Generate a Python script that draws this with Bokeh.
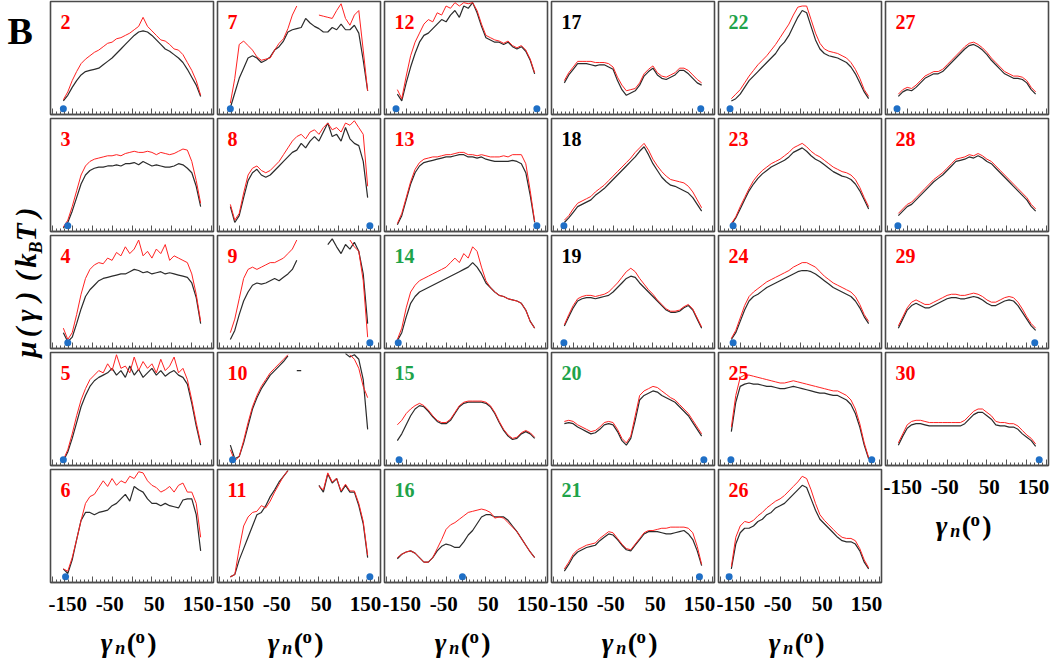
import math
import numpy as np
from bokeh.plotting import figure
from bokeh.layouts import row, column
from bokeh.models import (Range1d, FixedTicker, LinearAxis, SingleIntervalTicker, Label,
                          PrintfTickFormatter)
from bokeh.core.properties import value
from bokeh.embed import file_html
from bokeh.resources import INLINE

nan = float("nan")

# ---------------- data ----------------
gamma_deg = [-155, -145, -135, -125, -115, -105, -95, -85,
             -75, -65, -55, -45, -35, -25, -15, -5,
             5, 15, 25, 35, 45, 55, 65, 75,
             85, 95, 105, 115, 125, 135, 145, 155]
tick_label_values = [-150, -50, 50, 150]

red_labels = [2, 3, 4, 5, 6, 7, 8, 9, 10, 11, 12, 13, 23, 24, 25, 26, 27, 28, 29, 30]
black_labels = [17, 18, 19]
green_labels = [14, 15, 16, 20, 21, 22]

mu_black_02 = [12, 17, 24, 30, 35, 38, 39, 40, 41, 44, 47, 50, 54, 58, 62, 66, 70, 73, 74, 73, 70, 66, 62, 58, 56, 53, 50, 46, 40, 33, 26, 16]
mu_red_02 = [13, 20, 30, 38, 45, 49, 52, 55, 57, 60, 63, 64, 67, 68, 70, 72, 75, 78, 86, 78, 74, 70, 66, 65, 62, 58, 57, 53, 46, 39, 30, 17]
min_02 = [-155]
mu_black_03 = [3, 8, 18, 30, 42, 50, 54, 56, 57, 57, 58, 58, 59, 58, 60, 60, 61, 59, 62, 60, 58, 59, 58, 57, 57, 58, 60, 59, 56, 52, 40, 22]
mu_red_03 = [4, 10, 22, 36, 50, 58, 62, 64, 65, 66, 67, 67, 68, 67, 69, 70, 71, 70, 70, 71, 70, 68, 70, 69, 68, 69, 71, 73, 72, 62, 45, 25]
min_03 = [-145]
mu_black_04 = [14, 6, 10, 22, 35, 46, 52, 56, 60, 62, 63, 64, 65, 66, 66, 68, 70, 69, 67, 68, 66, 67, 68, 66, 67, 66, 65, 64, 63, 58, 45, 22]
mu_red_04 = [18, 8, 14, 30, 48, 62, 70, 74, 76, 75, 80, 78, 85, 82, 90, 84, 88, 96, 82, 86, 80, 88, 84, 92, 78, 82, 80, 78, 76, 66, 48, 24]
min_04 = [-145]
mu_black_05 = [4, 12, 24, 38, 52, 62, 70, 75, 78, 80, 82, 86, 80, 84, 78, 88, 80, 85, 78, 82, 86, 80, 84, 79, 82, 84, 80, 78, 72, 55, 35, 18]
mu_red_05 = [5, 14, 28, 44, 58, 68, 76, 80, 84, 82, 90, 84, 98, 86, 88, 82, 96, 84, 92, 86, 90, 82, 94, 84, 88, 96, 82, 86, 76, 58, 38, 20]
min_05 = [-155]
mu_black_06 = [12, 8, 20, 38, 55, 62, 62, 60, 62, 63, 64, 68, 70, 74, 78, 72, 85, 82, 80, 74, 70, 70, 68, 70, 68, 67, 66, 73, 74, 74, 60, 28]
mu_red_06 = [12, 10, 22, 38, 55, 70, 76, 78, 84, 90, 85, 92, 86, 90, 88, 94, 92, 98, 97, 90, 86, 84, 80, 82, 85, 80, 86, 88, 80, 80, 70, 40]
min_06 = [-150]
mu_black_07 = [6, 19, 32, 41, 50, 52, 50, 46, 48, 51, 57, 60, 65, 73, 75, 76, 77, 85, 81, 78, 76, 73, 73, 77, 75, 80, 75, 75, 79, 72, 48, 21]
mu_red_07 = [10, 32, 62, 65, 61, 57, 51, 48, 49, 50, 57, 63, 67, 76, 88, 96, nan, nan, nan, nan, 88, 87, 86, 85, 92, 98, 85, 79, 88, 92, 57, 21]
min_07 = [-155]
mu_black_08 = [22, 8, 14, 30, 45, 52, 55, 50, 48, 50, 54, 58, 62, 66, 70, 72, 78, 74, 80, 84, 80, 88, 96, 84, 86, 80, 92, 82, 78, 76, 62, 30]
mu_red_08 = [24, 10, 16, 34, 50, 56, 58, 54, 52, 54, 58, 62, 68, 74, 80, 84, 86, 82, 88, 90, 86, 92, 96, 90, 92, 88, 96, 94, 98, 92, 86, 40]
min_08 = [160]
mu_black_09 = [8, 16, 30, 42, 50, 56, 58, 57, 58, 60, 62, 60, 63, 66, 70, 78, nan, nan, nan, nan, nan, nan, 92, 97, 90, 84, 92, 88, 94, 86, 66, 22]
mu_red_09 = [14, 26, 44, 62, 70, 72, 70, 72, 74, 76, 76, 78, 80, 84, 88, 96, nan, nan, nan, nan, nan, nan, nan, nan, nan, nan, nan, 96, 90, 86, 60, 10]
min_09 = [160]
mu_black_10 = [18, 6, 8, 20, 35, 50, 60, 68, 74, 80, 84, 88, 92, 97, nan, 84, 84, nan, nan, nan, nan, nan, nan, nan, nan, nan, 99, 96, 98, 94, 76, 32]
mu_red_10 = [14, 4, 8, 22, 38, 52, 62, 70, 76, 82, 86, 90, 94, 98, nan, nan, nan, nan, nan, nan, nan, nan, nan, nan, nan, nan, nan, 98, 94, 86, 70, 60]
min_10 = [-150]
mu_black_11 = [5, 7, 20, 30, 40, 50, 60, 62, 68, 76, 82, 89, 94, 99, nan, nan, nan, nan, nan, nan, 86, 80, 96, 88, 92, 80, 86, 80, 80, 68, 52, 22]
mu_red_11 = [5, 7, 30, 50, 58, 62, 63, 68, 66, 72, 80, 87, 94, 99, nan, nan, nan, nan, nan, nan, 85, 82, 97, 89, 92, 81, 87, 81, 81, 70, 54, 24]
min_11 = [160]
mu_black_12 = [18, 12, 28, 42, 54, 64, 70, 72, 76, 80, 84, 82, 88, 92, 86, 96, 94, 99, 90, 78, 68, 66, 64, 64, 62, 64, 60, 58, 60, 56, 48, 36]
mu_red_12 = [22, 14, 34, 52, 64, 72, 80, 84, 82, 90, 88, 96, 94, 99, 96, 99, 98, 99, 92, 80, 70, 68, 66, 65, 63, 65, 61, 59, 61, 57, 49, 37]
min_12 = [-158, 160]
mu_black_13 = [6, 14, 28, 42, 52, 58, 61, 62, 63, 64, 65, 66, 66, 67, 68, 68, 66, 66, 65, 66, 64, 63, 62, 62, 62, 62, 63, 62, 60, 52, 32, 8]
mu_red_13 = [7, 16, 30, 44, 55, 61, 64, 65, 66, 66, 67, 68, 68, 69, 70, 70, 68, 68, 67, 68, 67, 66, 66, 66, 67, 66, 68, 68, 68, 60, 36, 9]
min_13 = [160]
mu_black_14 = [7, 14, 28, 40, 46, 50, 52, 54, 56, 58, 60, 62, 64, 66, 68, 70, 72, 76, 72, 66, 58, 54, 50, 47, 46, 44, 43, 42, 40, 34, 24, 18]
mu_red_14 = [8, 18, 36, 50, 56, 60, 62, 64, 66, 68, 70, 72, 76, 80, 76, 84, 80, 90, 86, 72, 60, 54, 50, 47, 46, 44, 43, 42, 40, 34, 24, 18]
min_14 = [-153]
mu_black_15 = [22, 28, 36, 44, 50, 53, 52, 48, 43, 39, 37, 37, 40, 46, 52, 55, 56, 56, 56, 56, 55, 52, 46, 38, 31, 26, 23, 24, 28, 30, 28, 24]
mu_red_15 = [36, 40, 46, 50, 53, 55, 53, 49, 44, 40, 38, 38, 41, 47, 53, 56, 57, 57, 57, 57, 56, 53, 47, 39, 32, 27, 24, 25, 29, 31, 29, 25]
min_15 = [-151]
mu_black_16 = [21, 25, 27, 28, 26, 22, 18, 18, 22, 28, 32, 34, 33, 31, 31, 36, 42, 46, 52, 58, 60, 60, 58, 58, 58, 55, 50, 45, 39, 33, 27, 22]
mu_red_16 = [22, 25, 27, 28, 26, 22, 18, 18, 22, 30, 38, 47, 51, 53, 56, 59, 62, 63, 64, 65, 64, 62, 57, 58, 57, 53, 49, 45, 39, 33, 27, 22]
min_16 = [-8]
mu_black_17 = [28, 35, 40, 45, 45, 45, 44, 43, 44, 44, 42, 40, 30, 22, 17, 19, 21, 26, 34, 38, 41, 35, 32, 31, 33, 35, 39, 39, 36, 32, 28, 26]
mu_red_17 = [30, 37, 42, 47, 47, 47, 47, 46, 46, 46, 45, 42, 33, 26, 21, 22, 23, 28, 36, 40, 43, 37, 34, 33, 35, 37, 41, 41, 39, 35, 31, 28]
min_17 = [153]
mu_black_18 = [8, 12, 17, 22, 24, 26, 28, 32, 35, 38, 42, 46, 50, 54, 58, 62, 66, 71, 75, 68, 60, 54, 48, 44, 41, 40, 38, 36, 34, 30, 24, 18]
mu_red_18 = [10, 14, 20, 25, 27, 29, 31, 35, 38, 41, 45, 49, 53, 57, 61, 65, 70, 74, 78, 72, 64, 58, 53, 49, 46, 45, 44, 43, 40, 35, 28, 21]
min_18 = [-156]
mu_black_19 = [20, 28, 36, 42, 44, 45, 45, 44, 45, 46, 47, 50, 54, 58, 62, 64, 63, 58, 54, 50, 46, 42, 38, 34, 32, 32, 33, 36, 38, 34, 26, 18]
mu_red_19 = [21, 30, 38, 44, 46, 47, 47, 46, 47, 48, 50, 54, 58, 63, 68, 71, 68, 62, 57, 52, 48, 43, 39, 35, 33, 33, 34, 37, 39, 35, 27, 19]
min_19 = [-156]
mu_black_20 = [37, 38, 37, 34, 32, 30, 28, 29, 32, 36, 37, 36, 30, 22, 18, 24, 40, 58, 62, 64, 66, 65, 62, 60, 58, 56, 52, 48, 44, 38, 32, 26]
mu_red_20 = [39, 40, 39, 36, 34, 32, 30, 31, 34, 38, 39, 38, 32, 24, 20, 26, 44, 62, 66, 68, 70, 69, 66, 63, 60, 58, 54, 50, 46, 40, 34, 28]
min_20 = [160]
mu_black_21 = [10, 16, 23, 27, 29, 31, 32, 33, 37, 40, 43, 42, 38, 33, 29, 28, 33, 38, 43, 45, 45, 45, 44, 43, 43, 44, 45, 46, 43, 38, 28, 15]
mu_red_21 = [12, 18, 25, 29, 31, 33, 34, 35, 39, 42, 45, 44, 39, 34, 30, 29, 34, 39, 44, 46, 46, 47, 48, 48, 49, 49, 49, 49, 48, 44, 32, 16]
min_21 = [150]
mu_black_22 = [12, 14, 18, 24, 30, 34, 38, 42, 46, 50, 54, 60, 64, 70, 78, 86, 92, 90, 78, 66, 58, 54, 52, 51, 50, 48, 46, 42, 36, 28, 20, 14]
mu_red_22 = [14, 18, 22, 28, 34, 39, 44, 48, 52, 57, 62, 68, 74, 80, 88, 95, 96, 96, 84, 72, 63, 58, 56, 55, 54, 52, 50, 46, 40, 32, 22, 16]
min_22 = [-158]
mu_black_23 = [6, 12, 20, 28, 36, 42, 47, 51, 54, 57, 59, 61, 63, 66, 70, 72, 74, 71, 67, 64, 62, 59, 56, 53, 51, 49, 48, 46, 42, 36, 28, 20]
mu_red_23 = [7, 13, 22, 30, 38, 45, 50, 54, 57, 60, 62, 64, 67, 70, 74, 76, 78, 75, 71, 68, 66, 63, 60, 57, 55, 53, 52, 50, 46, 39, 30, 22]
min_23 = [-151]
mu_black_24 = [8, 14, 24, 34, 42, 46, 48, 51, 54, 56, 58, 60, 62, 64, 66, 68, 69, 69, 68, 66, 63, 60, 57, 54, 52, 50, 48, 46, 42, 36, 28, 22]
mu_red_24 = [9, 16, 27, 38, 46, 50, 53, 56, 59, 61, 63, 65, 67, 69, 72, 74, 76, 76, 74, 72, 68, 64, 61, 58, 56, 54, 52, 50, 46, 39, 30, 24]
min_24 = [-151]
mu_black_25 = [30, 56, 70, 72, 73, 72, 72, 71, 70, 70, 69, 68, 68, 69, 70, 69, 68, 67, 66, 65, 64, 64, 63, 62, 62, 60, 58, 54, 46, 34, 18, 6]
mu_red_25 = [34, 62, 78, 80, 80, 79, 78, 77, 76, 75, 74, 73, 73, 74, 75, 74, 73, 72, 71, 70, 69, 68, 67, 66, 66, 64, 62, 58, 50, 37, 20, 7]
min_25 = [-156, 162]
mu_black_26 = [12, 34, 44, 48, 48, 50, 54, 56, 60, 62, 66, 68, 70, 74, 78, 82, 86, 84, 74, 64, 56, 52, 48, 44, 40, 37, 36, 36, 34, 28, 18, 12]
mu_red_26 = [14, 40, 50, 54, 53, 55, 59, 62, 66, 69, 72, 74, 77, 81, 85, 89, 94, 92, 82, 70, 60, 55, 51, 47, 43, 40, 39, 39, 37, 30, 20, 13]
min_26 = [-160]
mu_black_27 = [16, 20, 22, 21, 24, 28, 32, 34, 36, 36, 38, 42, 46, 50, 54, 58, 61, 62, 60, 57, 53, 48, 44, 40, 36, 34, 32, 32, 31, 28, 22, 18]
mu_red_27 = [18, 22, 24, 23, 26, 30, 34, 36, 38, 38, 40, 44, 48, 52, 56, 60, 63, 64, 62, 59, 55, 50, 46, 42, 38, 36, 34, 34, 33, 30, 24, 20]
min_27 = [-158]
mu_black_28 = [14, 18, 22, 24, 28, 32, 36, 40, 44, 47, 50, 54, 58, 62, 63, 64, 66, 65, 67, 65, 62, 60, 56, 52, 48, 44, 40, 36, 32, 28, 22, 18]
mu_red_28 = [16, 20, 24, 26, 30, 34, 38, 42, 46, 49, 52, 56, 60, 64, 65, 66, 68, 67, 69, 67, 64, 62, 58, 54, 50, 46, 42, 38, 34, 30, 24, 20]
min_28 = [-156]
mu_black_29 = [18, 26, 34, 38, 40, 38, 36, 36, 38, 40, 42, 44, 45, 45, 44, 44, 45, 46, 45, 43, 40, 38, 38, 40, 42, 43, 42, 38, 32, 26, 20, 16]
mu_red_29 = [20, 28, 36, 41, 43, 41, 39, 39, 41, 43, 45, 47, 48, 48, 47, 47, 48, 49, 48, 46, 43, 41, 41, 43, 45, 46, 45, 41, 35, 28, 22, 18]
min_29 = [153]
mu_black_30 = [18, 26, 33, 36, 37, 37, 36, 35, 35, 35, 35, 35, 35, 35, 35, 37, 41, 45, 47, 47, 44, 41, 36, 35, 35, 34, 34, 32, 28, 25, 22, 17]
mu_red_30 = [20, 28, 36, 39, 40, 40, 39, 38, 38, 38, 38, 38, 38, 38, 38, 40, 44, 48, 50, 50, 47, 44, 39, 38, 38, 37, 37, 35, 31, 27, 24, 19]
min_30 = [163]

column_panels = [
    [2, 3, 4, 5, 6],
    [7, 8, 9, 10, 11],
    [12, 13, 14, 15, 16],
    [17, 18, 19, 20, 21],
    [22, 23, 24, 25, 26],
    [27, 28, 29, 30],
]

PANELS = {}
for _n in range(2, 31):
    PANELS[_n] = (globals()["mu_black_%02d" % _n], globals()["mu_red_%02d" % _n], globals()["min_%02d" % _n])
    assert len(PANELS[_n][0]) == len(gamma_deg), ("black", _n, len(PANELS[_n][0]))
    assert len(PANELS[_n][1]) == len(gamma_deg), ("red", _n, len(PANELS[_n][1]))

# ---------------- style / layout ----------------
FONT = "Liberation Serif"
FW, FH = 163, 113
BL, BR, BT, BB = 2, 2, 1, 3
BB_AXIS = 40
LABEL_H = 37
STRIP_W = 48
XR = (-184, 184)
DOT_Y = 5
TOTAL_H = 4 * (BT + FH + BB) + (BT + FH + BB_AXIS) + LABEL_H

LABEL_COLORS = {}
for _n in red_labels:
    LABEL_COLORS[_n] = "#ff0000"
for _n in black_labels:
    LABEL_COLORS[_n] = "#000000"
for _n in green_labels:
    LABEL_COLORS[_n] = "#1ea34a"


def make_panel(num, bottom):
    black, red, mins = PANELS[num]
    p = figure(frame_width=FW, frame_height=FH,
               x_range=Range1d(*XR), y_range=Range1d(0, 100),
               min_border_left=BL, min_border_right=BR, min_border_top=BT,
               min_border_bottom=BB_AXIS if bottom else BB,
               toolbar_location=None, tools="", output_backend="svg",
               y_axis_location=None)
    p.grid.visible = False
    p.background_fill_color = "white"
    p.border_fill_color = "white"
    p.outline_line_color = "#4a4a4a"
    p.outline_line_width = 1.6
    ax = p.xaxis[0]
    ax.ticker = SingleIntervalTicker(interval=45, num_minor_ticks=5)
    ax.major_tick_in = 6
    ax.major_tick_out = 0
    ax.minor_tick_in = 3
    ax.minor_tick_out = 0
    ax.major_tick_line_color = "#555555"
    ax.minor_tick_line_color = "#555555"
    ax.axis_line_color = "#4a4a4a"
    ax.axis_line_width = 1.6
    ax.major_label_text_font_size = "0px"
    ax.major_label_text_color = None
    ax.major_label_standoff = 0

    x = np.array(gamma_deg, dtype=float)
    p.line(x=x, y=np.array(black, dtype=float), line_color="#2b2b2b", line_width=1.2)
    p.line(x=x, y=np.array(red, dtype=float), line_color="#ff2222", line_width=1.0)
    p.scatter(x=mins, y=[DOT_Y] * len(mins), size=7, fill_color="#1f6fc6", line_color=None)

    p.add_layout(Label(x=XR[0], y=100, x_offset=10, y_offset=-20, text=str(num),
                       text_font=FONT, text_font_style="bold", text_font_size="20px",
                       text_color=LABEL_COLORS[num], text_baseline="middle", text_align="left"))
    if bottom:
        lab = LinearAxis(ticker=FixedTicker(ticks=tick_label_values, minor_ticks=[]),
                         formatter=PrintfTickFormatter(format="%d"))
        lab.axis_line_color = None
        lab.major_tick_line_color = None
        lab.minor_tick_line_color = None
        lab.major_tick_in = 0
        lab.major_tick_out = 0
        lab.major_label_standoff = 14
        lab.major_label_text_font = FONT
        lab.major_label_text_font_style = "bold"
        lab.major_label_text_font_size = "21px"
        lab.major_label_text_color = "black"
        p.add_layout(lab, "below")
    return p


def add_text(f, x, y, t, size, style, angle=0.0, align="center"):
    f.text(x=[x], y=[y], text=[t], text_font=value(FONT), text_font_size=size,
           text_font_style=style, text_align=align, text_baseline="middle",
           text_color="black", angle=angle)


def make_xlabel():
    W = BL + FW + BR
    f = figure(width=W, height=LABEL_H, x_range=Range1d(0, W), y_range=Range1d(0, LABEL_H),
               min_border=0, toolbar_location=None, tools="", output_backend="svg",
               x_axis_location=None, y_axis_location=None)
    f.outline_line_color = None
    f.grid.visible = False
    fc = BL + FW / 2
    add_text(f, fc - 26, 17.5, "γ", "28px", "bold italic")
    add_text(f, fc - 12, 11.5, "n", "18px", "bold italic")
    add_text(f, fc - 0.5, 17.5, "(", "28px", "bold")
    add_text(f, fc + 8.5, 23, "o", "19px", "bold")
    add_text(f, fc + 20.5, 17.5, ")", "28px", "bold")
    return f


def make_strip():
    H = TOTAL_H
    f = figure(width=STRIP_W, height=H, x_range=Range1d(0, STRIP_W), y_range=Range1d(0, H),
               min_border=0, toolbar_location=None, tools="", output_backend="svg",
               x_axis_location=None, y_axis_location=None)
    f.outline_line_color = None
    f.grid.visible = False

    def sy(page_y):
        return H - page_y

    add_text(f, 7, sy(30), "B", "38px", "bold", align="left")
    a = math.pi / 2
    bx = 25
    for t, py in [("μ", 349), ("(", 332), ("γ", 315), (")", 296), ("(", 276), ("k", 260), ("T", 232), (")", 212)]:
        add_text(f, bx, sy(py), t, "29px", "bold italic", angle=a)
    add_text(f, bx + 10, sy(247), "B", "18px", "bold italic", angle=a)
    return f


cols = []
for spec in column_panels:
    figs = [make_panel(n, i == len(spec) - 1) for i, n in enumerate(spec)]
    figs.append(make_xlabel())
    cols.append(column(*figs, spacing=0, align="start"))

layout = row(make_strip(), *cols, spacing=0, align="start")

open("out.html", "w").write(file_html(layout, INLINE, title="mu gamma panels"))
